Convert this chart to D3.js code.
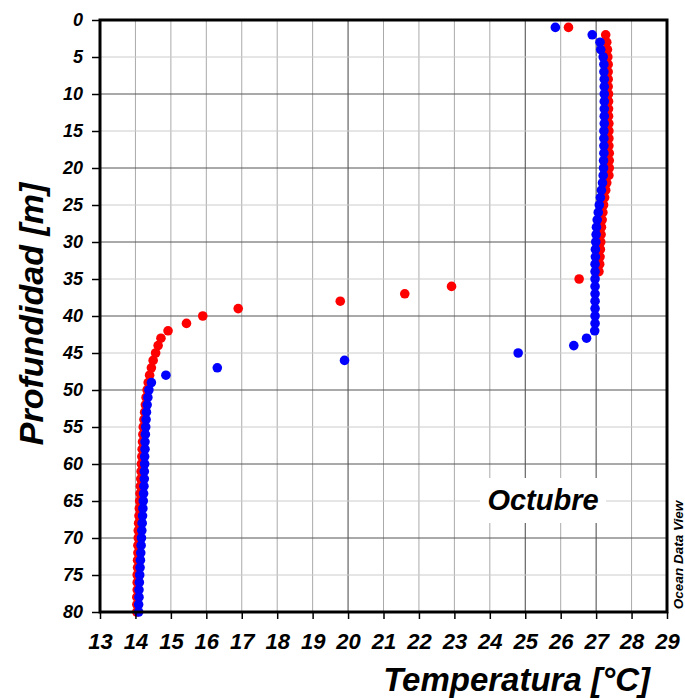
<!DOCTYPE html>
<html>
<head>
<meta charset="utf-8">
<script src="https://cdn.jsdelivr.net/npm/d3@7"></script>
<style>
  body { margin: 0; background: #fff; }
  svg { display: block; font-family: Arial, "Liberation Sans", sans-serif; }
  .tick text { font-weight: bold; font-style: italic; fill: #000; }
</style>
</head>
<body>
<svg id="chart" width="685" height="698"></svg>
<script>
// depth of each sample (m)
var depths = d3.range(1, 81);

// red profile, temperature (°C) per depth
var redTemps = [
  26.22, 27.27, 27.30, 27.32, 27.33, 27.34, 27.34, 27.34, 27.34, 27.35,
  27.35, 27.35, 27.35, 27.36, 27.36, 27.36, 27.36, 27.37, 27.37, 27.37,
  27.36, 27.30, 27.27, 27.24, 27.21, 27.19, 27.17, 27.15, 27.14, 27.13,
  27.12, 27.11, 27.10, 27.08, 26.52, 22.92, 21.60, 19.78, 16.90, 15.90,
  15.44, 14.92, 14.72, 14.64, 14.57, 14.50, 14.45, 14.40, 14.36, 14.33,
  14.30, 14.28, 14.26, 14.24, 14.22, 14.21, 14.20, 14.19, 14.18, 14.17,
  14.16, 14.15, 14.14, 14.13, 14.12, 14.11, 14.10, 14.09, 14.08, 14.08,
  14.07, 14.07, 14.06, 14.06, 14.05, 14.05, 14.05, 14.04, 14.04, 14.04
];

// blue profile, temperature (°C) per depth
var blueTemps = [
  25.85, 26.89, 27.11, 27.13, 27.20, 27.22, 27.22, 27.23, 27.23, 27.23,
  27.23, 27.23, 27.23, 27.23, 27.22, 27.22, 27.22, 27.22, 27.21, 27.21,
  27.20, 27.18, 27.15, 27.12, 27.09, 27.06, 27.03, 27.01, 27.00, 26.99,
  26.98, 26.98, 26.97, 26.97, 26.97, 26.97, 26.97, 26.97, 26.97, 26.97,
  26.97, 26.96, 26.73, 26.37, 24.80, 19.90, 16.31, 14.86, 14.45, 14.38,
  14.35, 14.33, 14.31, 14.30, 14.29, 14.28, 14.27, 14.27, 14.26, 14.26,
  14.25, 14.25, 14.24, 14.23, 14.22, 14.21, 14.20, 14.19, 14.18, 14.17,
  14.16, 14.15, 14.14, 14.13, 14.12, 14.11, 14.10, 14.10, 14.09, 14.09
];

var xTicks = d3.range(13, 30);        // 13 .. 29 °C
var yTicks = d3.range(0, 81, 5);      // 0 .. 80 m
var monthLabel = "Octubre";

var svg = d3.select("#chart");
var margin = {top: 20, right: 18, bottom: 86, left: 100};
var width = 685 - margin.left - margin.right;
var height = 698 - margin.top - margin.bottom;

var x = d3.scaleLinear().domain([13, 29]).range([0, width]);
var y = d3.scaleLinear().domain([0, 80]).range([0, height]);

var g = svg.append("g").attr("transform", "translate(" + margin.left + "," + margin.top + ")");

/* grid lines */
g.selectAll(".vgrid").data(xTicks).enter().append("line")
  .attr("class", "vgrid")
  .attr("x1", d => x(d)).attr("x2", d => x(d))
  .attr("y1", 0).attr("y2", height)
  .attr("stroke", d => (d == 20 || d == 25 || d == 27) ? "#444" : "#aaa")
  .attr("stroke-width", 1);

g.selectAll(".hgrid").data(yTicks).enter().append("line")
  .attr("class", "hgrid")
  .attr("x1", 0).attr("x2", width)
  .attr("y1", d => y(d)).attr("y2", d => y(d))
  .attr("stroke", d => d % 10 == 0 ? "#555" : "#ccc")
  .attr("stroke-width", 1);

/* label box */
var lx = x(25.5), ly = y(65);
g.append("rect")
  .attr("x", lx - 63).attr("y", ly - 23)
  .attr("width", 126).attr("height", 45)
  .attr("fill", "#fff");
g.append("text")
  .attr("x", lx).attr("y", ly + 9)
  .attr("text-anchor", "middle")
  .style("font-size", "29px").style("font-weight", "bold").style("font-style", "italic")
  .text(monthLabel);

/* points: red first, blue on top */
var redData = depths.map((d, i) => ({depth: d, temp: redTemps[i]}));
var blueData = depths.map((d, i) => ({depth: d, temp: blueTemps[i]}));

g.selectAll(".red").data(redData).enter().append("circle")
  .attr("class", "red")
  .attr("cx", d => x(d.temp)).attr("cy", d => y(d.depth))
  .attr("r", 4.8).attr("fill", "#ff0000");

g.selectAll(".blue").data(blueData).enter().append("circle")
  .attr("class", "blue")
  .attr("cx", d => x(d.temp)).attr("cy", d => y(d.depth))
  .attr("r", 4.8).attr("fill", "#0000ff");

/* axes */
var yAxis = g.append("g")
  .call(d3.axisLeft(y).tickValues(yTicks).tickSize(8).tickPadding(9));
yAxis.selectAll("text").style("font-size", "18px");
yAxis.selectAll("line").attr("stroke-width", 1.5);

var xAxis = g.append("g")
  .attr("transform", "translate(0," + height + ")")
  .call(d3.axisBottom(x).tickValues(xTicks).tickSize(7).tickPadding(14));
xAxis.selectAll("text").style("font-size", "22px");
xAxis.selectAll("line").attr("stroke-width", 1.5);

svg.selectAll(".domain").remove();

/* frame */
g.append("rect")
  .attr("width", width).attr("height", height)
  .attr("fill", "none").attr("stroke", "#000").attr("stroke-width", 3);

/* axis titles */
svg.append("text")
  .attr("x", 650).attr("y", 691)
  .attr("text-anchor", "end")
  .style("font-size", "33px").style("font-weight", "bold").style("font-style", "italic")
  .text("Temperatura [°C]");

svg.append("text")
  .attr("transform", "translate(43,314) rotate(-90)")
  .attr("text-anchor", "middle")
  .style("font-size", "34px").style("font-weight", "bold").style("font-style", "italic")
  .text("Profundidad [m]");

svg.append("text")
  .attr("transform", "translate(683,555) rotate(-90)")
  .attr("text-anchor", "middle")
  .style("font-size", "13.5px").style("font-weight", "bold").style("font-style", "italic")
  .text("Ocean Data View");
</script>
</body>
</html>
